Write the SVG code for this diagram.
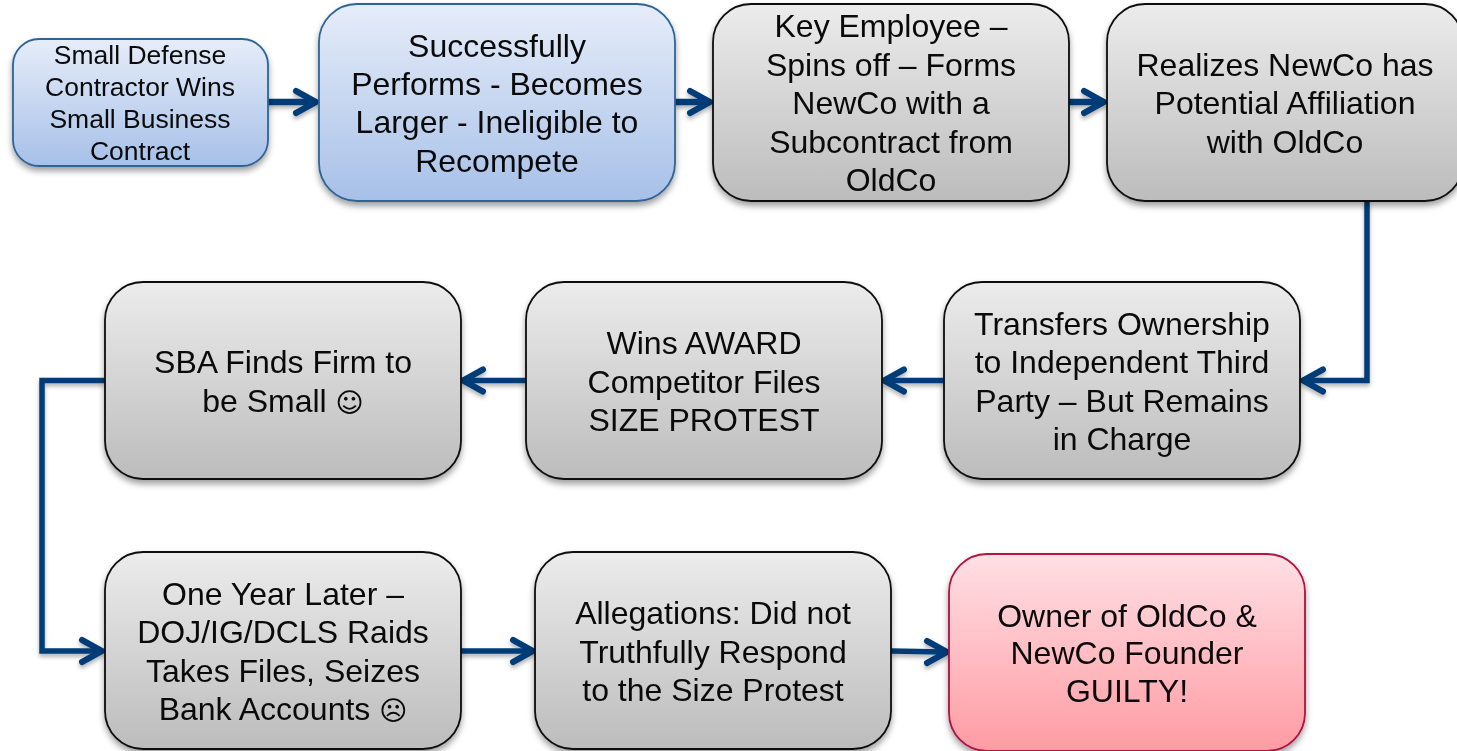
<svg xmlns="http://www.w3.org/2000/svg" width="1457" height="751" viewBox="0 0 1457 751">
<style>
text{font-family:"Liberation Sans",Arial,sans-serif;font-size:32px;fill:#0a0a0a;text-anchor:middle}
.s text{font-size:26.5px}
.b{stroke-width:1.8;filter:url(#sh)}
.g{fill:url(#gray);stroke:#0c0c0c}
.u{fill:url(#blue);stroke:#2f6496}
.r{fill:url(#red);stroke:#b0123f}
.c{fill:none;stroke:#043c78;stroke-width:5.500}
.t{stroke-width:6.500}
.h{fill:none;stroke:#043c78;stroke-width:6;stroke-linecap:round;stroke-linejoin:miter}
.e{font-family:"DejaVu Sans",sans-serif;font-size:27px}
</style>
<defs>
<linearGradient id="gray" x1="0" y1="0" x2="0" y2="1"><stop offset="0" stop-color="#ececec"/><stop offset="1" stop-color="#bcbcbc"/></linearGradient>
<linearGradient id="blue" x1="0" y1="0" x2="0" y2="1"><stop offset="0" stop-color="#e6edf9"/><stop offset="1" stop-color="#a7c0e8"/></linearGradient>
<linearGradient id="red" x1="0" y1="0" x2="0" y2="1"><stop offset="0" stop-color="#ffe0e5"/><stop offset="1" stop-color="#ff9ba3"/></linearGradient>
<filter id="sh" x="-5%" y="-5%" width="110%" height="115%"><feDropShadow dx="0" dy="4" stdDeviation="3" flood-color="#000" flood-opacity=".38"/></filter>
<filter id="shc" filterUnits="userSpaceOnUse" x="0" y="0" width="1457" height="751"><feDropShadow dx="0" dy="3" stdDeviation="2" flood-color="#000" flood-opacity=".3"/></filter>
<g id="ah"><path class="h" d="M-20 -11 L0 0 L-20 11"/></g>
</defs>
<g id="connectors" filter="url(#shc)">
<path class="c t" d="M268 102H314"/><use href="#ah" x="316" y="102"/>
<path class="c t" d="M675 102H708"/><use href="#ah" x="710" y="102"/>
<path class="c t" d="M1069 102H1102"/><use href="#ah" x="1104" y="102"/>
<path class="c" d="M1367 201V380.500H1308"/><use href="#ah" transform="translate(1303 380.500) rotate(180)"/>
<path class="c" d="M944 380.500H888"/><use href="#ah" transform="translate(884 380.500) rotate(180)"/>
<path class="c" d="M526 380.500H468"/><use href="#ah" transform="translate(463 380.500) rotate(180)"/>
<path class="c" d="M105 380.500H42V651H98"/><use href="#ah" x="102" y="651"/>
<path class="c" d="M461 651H530"/><use href="#ah" x="533" y="651"/>
<path class="c" d="M891 651L944 652"/><use href="#ah" x="947" y="652"/>
</g>
<g id="n1" class="s"><rect class="b u" x="13" y="39" width="255" height="127" rx="26"/><text x="140" y="64">Small Defense</text><text x="140" y="96">Contractor Wins</text><text x="140" y="128">Small Business</text><text x="140" y="160">Contract</text></g>
<g id="n2"><rect class="b u" x="319" y="4" width="356" height="197" rx="38"/><text x="497" y="57">Successfully</text><text x="497" y="95">Performs - Becomes</text><text x="497" y="133">Larger - Ineligible to</text><text x="497" y="172">Recompete</text></g>
<g id="n3"><rect class="b g" x="713" y="4" width="356" height="197" rx="38"/><text x="891" y="37">Key Employee –</text><text x="891" y="76">Spins off – Forms</text><text x="891" y="114">NewCo with a</text><text x="891" y="153">Subcontract from</text><text x="891" y="191">OldCo</text></g>
<g id="n4"><rect class="b g" x="1107" y="4" width="356" height="197" rx="38"/><text x="1285" y="76">Realizes NewCo has</text><text x="1285" y="114">Potential Affiliation</text><text x="1285" y="153">with OldCo</text></g>
<g id="n5"><rect class="b g" x="944" y="282" width="356" height="197" rx="38"/><text x="1122" y="335">Transfers Ownership</text><text x="1122" y="373">to Independent Third</text><text x="1122" y="412">Party – But Remains</text><text x="1122" y="450">in Charge</text></g>
<g id="n6"><rect class="b g" x="526" y="282" width="356" height="197" rx="38"/><text x="704" y="354">Wins AWARD</text><text x="704" y="393">Competitor Files</text><text x="704" y="431">SIZE PROTEST</text></g>
<g id="n7"><rect class="b g" x="105" y="282" width="356" height="197" rx="38"/><text x="283" y="373">SBA Finds Firm to</text><text x="283" y="412">be Small <tspan class="e">☺</tspan></text></g>
<g id="n8"><rect class="b g" x="105" y="552" width="356" height="197" rx="38"/><text x="283" y="605">One Year Later –</text><text x="283" y="643">DOJ/IG/DCLS Raids</text><text x="283" y="682">Takes Files, Seizes</text><text x="283" y="720">Bank Accounts <tspan class="e">☹</tspan></text></g>
<g id="n9"><rect class="b g" x="535" y="552" width="356" height="197" rx="38"/><text x="713" y="624">Allegations: Did not</text><text x="713" y="663">Truthfully Respond</text><text x="713" y="701">to the Size Protest</text></g>
<g id="n10"><rect class="b r" x="949" y="554" width="356" height="197" rx="38"/><text x="1127" y="627">Owner of OldCo &amp;</text><text x="1127" y="664">NewCo Founder</text><text x="1127" y="702">GUILTY!</text></g>
</svg>
